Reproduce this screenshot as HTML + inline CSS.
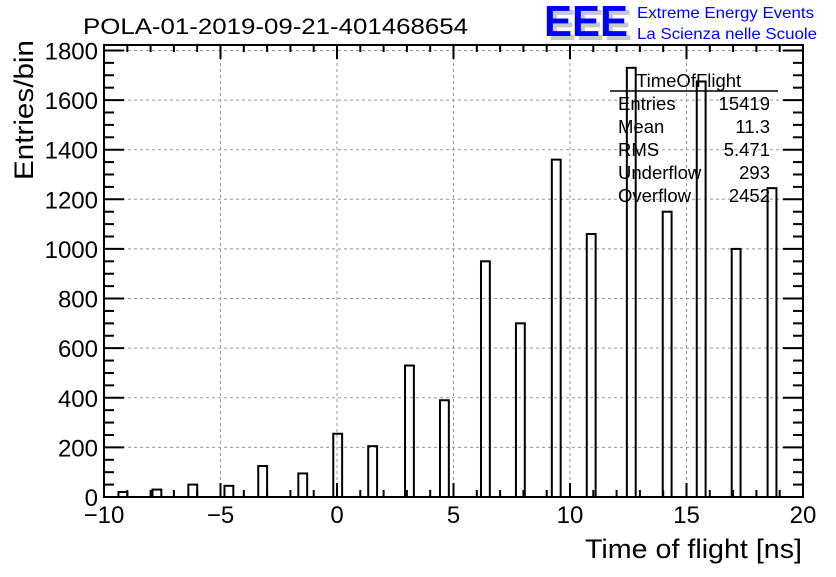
<!DOCTYPE html>
<html><head><meta charset="utf-8"><style>
body{margin:0;background:#fff;}
svg text{font-family:"Liberation Sans",sans-serif;}
</style></head><body>
<svg id="c" width="836" height="572" xmlns="http://www.w3.org/2000/svg">
<rect width="836" height="572" fill="#fff"/>
<text x="83" y="34" font-size="22" textLength="385" lengthAdjust="spacingAndGlyphs">POLA-01-2019-09-21-401468654</text>
<g>
<text x="548" y="40" font-size="44" font-weight="bold" fill="#c8c8c8" textLength="84" lengthAdjust="spacingAndGlyphs">EEE</text>
<text x="544" y="36" font-size="44" font-weight="bold" fill="#0000ff" textLength="84" lengthAdjust="spacingAndGlyphs">EEE</text>
<text x="637" y="18" font-size="16" fill="#0000ff" textLength="177" lengthAdjust="spacingAndGlyphs">Extreme Energy Events</text>
<text x="637" y="39" font-size="16" fill="#0000ff" textLength="180" lengthAdjust="spacingAndGlyphs">La Scienza nelle Scuole</text>
</g>
<g id="grid"></g><g id="bars"></g><g id="axes"></g>
<g font-size="18.5">
<text x="636" y="87">TimeOfFlight</text>
<line x1="610" y1="91" x2="778" y2="91" stroke="#000" stroke-width="1.5"/>
<text x="618" y="110">Entries</text><text x="770" y="110" text-anchor="end">15419</text>
<text x="618" y="133">Mean</text><text x="770" y="133" text-anchor="end">11.3</text>
<text x="618" y="156">RMS</text><text x="770" y="156" text-anchor="end">5.471</text>
<text x="618" y="179">Underflow</text><text x="770" y="179" text-anchor="end">293</text>
<text x="618" y="202">Overflow</text><text x="770" y="202" text-anchor="end">2452</text>
</g>
<text x="802" y="558" font-size="27" text-anchor="end" textLength="217" lengthAdjust="spacingAndGlyphs">Time of flight [ns]</text>
<text transform="translate(33,180) rotate(-90)" font-size="27" text-anchor="start" textLength="140" lengthAdjust="spacingAndGlyphs">Entries/bin</text>
</svg>
<script>
const binCenters=[-9.19,-7.73,-6.19,-4.64,-3.19,-1.47,0.03,1.53,3.11,4.61,6.37,7.87,9.41,10.91,12.63,14.17,15.63,17.13,18.67];
const counts=[20,30,50,45,125,95,255,205,530,390,950,700,1360,1060,1730,1150,1675,1000,1245];
const xTicks=[-10,-5,0,5,10,15,20];
const xTickLabels=["\u221210","\u22125","0","5","10","15","20"];
const yTicks=[0,200,400,600,800,1000,1200,1400,1600,1800];
const binWidth=0.38;
const X0=104,X1=803,Y0=497,Y1=45,xmin=-10,xmax=20,ymax=1822;
const sx=v=>X0+(v-xmin)/(xmax-xmin)*(X1-X0);
const sy=v=>Y0-v/ymax*(Y0-Y1);
const NS="http://www.w3.org/2000/svg";
function mk(p,t,a){const e=document.createElementNS(NS,t);for(const k in a)e.setAttribute(k,a[k]);p.appendChild(e);return e;}
const grid=document.getElementById('grid'),bars=document.getElementById('bars'),axes=document.getElementById('axes');
xTicks.forEach(v=>{const l=mk(grid,'line',{x1:sx(v),x2:sx(v),y1:Y1,y2:Y0,stroke:'#999','stroke-dasharray':'3,3'});

});
yTicks.forEach(v=>{const l=mk(grid,'line',{x1:X0,x2:X1,y1:sy(v),y2:sy(v),stroke:'#999','stroke-dasharray':'3,3'});

});
binCenters.forEach((c,i)=>{const x=sx(c-binWidth/2),w=sx(c+binWidth/2)-x;
const r=mk(bars,'rect',{x:x,y:sy(counts[i]),width:w,height:Y0-sy(counts[i]),fill:'none',stroke:'#000','stroke-width':2});

});
const fr=mk(axes,'rect',{x:X0,y:Y1,width:X1-X0,height:Y0-Y1,fill:'none',stroke:'#000','stroke-width':2});


for(let v=xmin;v<=xmax;v++){const maj=v%5===0,L=maj?14:7;
mk(axes,'line',{x1:sx(v),x2:sx(v),y1:Y0,y2:Y0-L,stroke:'#000','stroke-width':2});
mk(axes,'line',{x1:sx(v),x2:sx(v),y1:Y1,y2:Y1+L,stroke:'#000','stroke-width':2});}
for(let v=0;v<=ymax;v+=50){const maj=v%200===0,L=maj?20:10;
mk(axes,'line',{x1:X0,x2:X0+L,y1:sy(v),y2:sy(v),stroke:'#000','stroke-width':2});
mk(axes,'line',{x1:X1,x2:X1-L,y1:sy(v),y2:sy(v),stroke:'#000','stroke-width':2});}
xTicks.forEach((v,i)=>{const t=mk(axes,'text',{x:sx(v),y:523,'font-size':24,'text-anchor':'middle'});t.textContent=xTickLabels[i];

});
yTicks.forEach(v=>{const t=mk(axes,'text',{x:98,y:sy(v)+9,'font-size':24,'text-anchor':'end'});t.textContent=String(v);

});
</script>
</body></html>
